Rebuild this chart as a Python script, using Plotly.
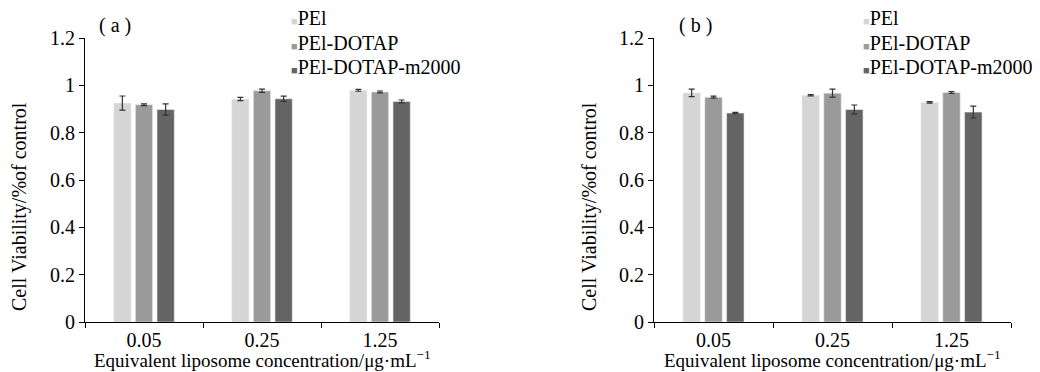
import plotly.graph_objects as go

categories = ["0.05", "0.25", "1.25"]
series_names = ["PEl", "PEl-DOTAP", "PEl-DOTAP-m2000"]
colors = ["#d5d5d5", "#9a9a9a", "#646464"]

# panel (a)
a_pei = [0.925, 0.942, 0.979]
a_dotap = [0.918, 0.977, 0.972]
a_m2000 = [0.898, 0.943, 0.932]
a_pei_err = [0.030, 0.007, 0.004]
a_dotap_err = [0.004, 0.007, 0.004]
a_m2000_err = [0.024, 0.011, 0.006]

# panel (b)
b_pei = [0.968, 0.958, 0.928]
b_dotap = [0.950, 0.967, 0.970]
b_m2000 = [0.883, 0.898, 0.887]
b_pei_err = [0.016, 0.003, 0.003]
b_dotap_err = [0.004, 0.017, 0.004]
b_m2000_err = [0.003, 0.019, 0.025]

y_ticks = [0, 0.2, 0.4, 0.6, 0.8, 1, 1.2]
y_tick_text = ["0", "0.2", "0.4", "0.6", "0.8", "1", "1.2"]

W, H = 1040, 364
OFF = 8  # page body margin
FONT = "Liberation Serif, Times New Roman, serif"
FS = 20
FS_T = 19
FS_L = 20

fig = go.Figure()

panels = [
    ("x", "y", [a_pei, a_dotap, a_m2000], [a_pei_err, a_dotap_err, a_m2000_err]),
    ("x2", "y2", [b_pei, b_dotap, b_m2000], [b_pei_err, b_dotap_err, b_m2000_err]),
]
for xa, ya, vals, errs in panels:
    for name, v, e, c in zip(series_names, vals, errs, colors):
        fig.add_trace(go.Bar(
            x=categories, y=v, name=name, xaxis=xa, yaxis=ya, showlegend=False,
            marker=dict(color=c, line=dict(color="#eeeeee", width=0.6)),
            error_y=dict(type="data", array=e, visible=True, color="#333333",
                         thickness=1.2, width=3),
        ))

def px_x(p):
    return (p - OFF) / W

def px_y(p):
    return 1 - (p - OFF) / H

axis_common = dict(
    showgrid=False, zeroline=False, showline=True, linecolor="black", linewidth=1.2,
    ticks="outside", tickcolor="black", ticklen=5, tickwidth=1.2,
    tickfont=dict(family=FONT, size=FS, color="black"), automargin=False,
)

fig.update_layout(
    width=W, height=H,
    margin=dict(l=0, r=0, t=0, b=0),
    paper_bgcolor="white", plot_bgcolor="white",
    barmode="group", bargap=0.45, bargroupgap=0.2,
    font=dict(family=FONT, size=FS, color="black"),
    xaxis=dict(domain=[px_x(85), px_x(439)], anchor="y", tickson="boundaries",
               ticklabelstandoff=0, **axis_common),
    yaxis=dict(domain=[px_y(322), px_y(38)], anchor="x", range=[0, 1.2],
               tickvals=y_ticks, ticktext=y_tick_text, **axis_common),
    xaxis2=dict(domain=[px_x(654), px_x(1011)], anchor="y2", tickson="boundaries",
                ticklabelstandoff=0, **axis_common),
    yaxis2=dict(domain=[px_y(322), px_y(38)], anchor="x2", range=[0, 1.2],
                tickvals=y_ticks, ticktext=y_tick_text, **axis_common),
    showlegend=False,
)

ytitle = "Cell Viability/%of control"
xtitle = "Equivalent liposome concentration/μg·mL<sup>−1</sup>"
ann = []
for xc, yx, lab, lx, legx in [(262, 20, "( a )", 115, 289), (832, 590, "( b )", 695, 861)]:
    ann.append(dict(x=px_x(yx), y=px_y(207), xref="paper", yref="paper", text=ytitle,
                    xanchor="center", yanchor="middle",
                    textangle=-90, showarrow=False, font=dict(family=FONT, size=20)))
    ann.append(dict(x=px_x(xc), y=px_y(359), xref="paper", yref="paper", text=xtitle,
                    xanchor="center", yanchor="middle",
                    showarrow=False, font=dict(family=FONT, size=FS_T)))
    ann.append(dict(x=px_x(lx), y=px_y(25), xref="paper", yref="paper", text=lab,
                    xanchor="center", yanchor="middle",
                    showarrow=False, font=dict(family=FONT, size=FS)))
    # legend entries
    for i, (name, c) in enumerate(zip(series_names, colors)):
        ann.append(dict(
            x=px_x(legx), y=px_y(18 + 24.5 * i), xref="paper", yref="paper",
            text=f"<span style='color:{c};font-size:11px'>■</span>{name}",
            xanchor="left", yanchor="middle", showarrow=False,
            font=dict(family=FONT, size=FS_L, color="black")))
fig.update_layout(annotations=ann)

fig.write_html("out.html")
